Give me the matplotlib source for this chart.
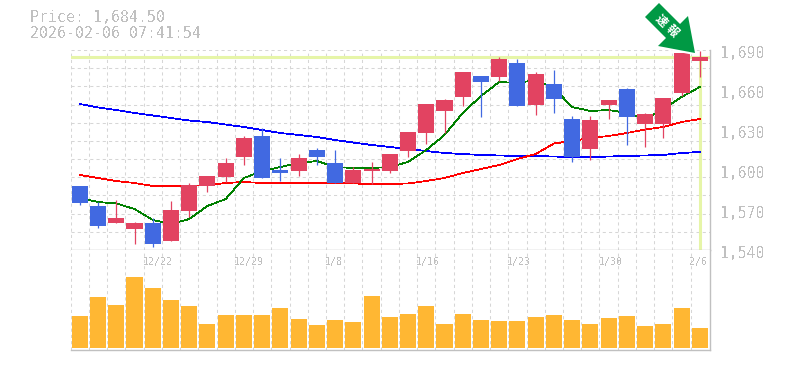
import matplotlib
matplotlib.use('Agg')
import matplotlib.pyplot as plt
import numpy as np
from matplotlib.patches import Polygon

# daily candles, prices in yen
opens = [1588, 1573, 1560.25, 1555.75, 1560.25, 1546.75, 1569.25, 1588, 1594.75, 1609.75,
         1625.5, 1600, 1599.25, 1615, 1605.25, 1590.25, 1599.25, 1599.25, 1614.25, 1627.75,
         1644.25, 1654.75, 1670.5, 1669.75, 1680.25, 1648.75, 1664.5, 1638.25, 1615.75, 1648.75,
         1660.75, 1634.5, 1634.5, 1657.75, 1681.75]
closes = [1575.5, 1558, 1564, 1560.25, 1544.5, 1570, 1588.75, 1595.5, 1605.25, 1624,
          1594, 1597.75, 1609, 1609.75, 1590.25, 1600, 1600.75, 1612, 1628.5, 1649.5,
          1652.5, 1673.5, 1666, 1683.25, 1648, 1672, 1653.25, 1609.75, 1637.5, 1652.5,
          1639.75, 1642, 1654, 1687.75, 1684.5]
highs = [1588, 1576, 1577.5, 1561, 1564, 1576.75, 1590.25, 1595.5, 1609, 1625.5,
         1631.5, 1609, 1612, 1616.5, 1615, 1602.25, 1606, 1612, 1628.5, 1649.5,
         1653.25, 1673.5, 1670.5, 1684.75, 1683.25, 1673.5, 1675, 1640.5, 1640.5, 1652.5,
         1661.5, 1642.75, 1654, 1687.75, 1689.25]
lows = [1574, 1556.75, 1560.25, 1544.5, 1542.25, 1546.75, 1564.75, 1583.5, 1591, 1603.75,
        1594, 1591.75, 1595.5, 1603.75, 1590.25, 1590.25, 1589.5, 1597.75, 1609.75, 1619.5,
        1627.75, 1648, 1639.75, 1666.75, 1648, 1641.25, 1642.75, 1606, 1607.5, 1638.25,
        1618.75, 1617.25, 1624, 1655.5, 1669.75]

# moving averages
ma_short = [1579, 1576, 1574.9, 1570.75, 1562.5, 1559.5, 1563.25, 1573, 1578.25, 1594,
            1599.25, 1602.25, 1605.25, 1606.75, 1602.25, 1601.5, 1601.5, 1602.25, 1606, 1615,
            1626.25, 1642.75, 1655.5, 1666, 1665.25, 1667.5, 1661.5, 1647.25, 1644.25, 1645,
            1642.75, 1638.25, 1645.75, 1654.75, 1662.25]
ma_mid = [1596.25, 1594, 1591.75, 1590.25, 1588, 1588, 1588, 1588.75, 1590.25, 1591,
          1590.25, 1590.25, 1590.25, 1590.25, 1590.25, 1589.9, 1589.5, 1589.5, 1589.9, 1591.75,
          1594, 1597.75, 1600.75, 1603.75, 1608.25, 1612, 1619.9, 1621.75, 1624, 1625.5,
          1627.75, 1630.4, 1632.25, 1636, 1638.25]
ma_long = [1649.5, 1646.9, 1645, 1642.75, 1640.9, 1639, 1637.1, 1636, 1634.1, 1632.25,
           1630, 1627.75, 1626.25, 1624.75, 1622.5, 1620.6, 1618.75, 1617.25, 1615.75, 1614.25,
           1612.75, 1612, 1611.25, 1610.9, 1610.5, 1610.5, 1610.1, 1609.75, 1609.75, 1610.1,
           1610.5, 1610.9, 1611.25, 1612.75, 1613.5]

volume = [32, 51, 43, 71, 60, 48, 42, 24, 33, 33, 33, 40, 29, 23, 28, 26, 52, 31,
          34, 42, 24, 34, 28, 27, 27, 31, 33, 28, 24, 30, 32, 22, 24, 40, 20]

date_idx = [4, 9, 14, 19, 24, 29, 34]
date_labels = ['12/22', '12/29', '1/8', '1/16', '1/23', '1/30', '2/6']
price_ticks = [1690, 1660, 1630, 1600, 1570, 1540]
price_now = 1684.5
header = ['Price: 1,684.50', '2026-02-06 07:41:54']
badge = ['速', '報']

W, H = 785, 370
L, R = 70.7, 710
RED = '#e24361'
BLUE = '#4169e1'
GRAY = '#c0c0c0'
GRID = '#d6d6d6'
LIME = '#e6f5a8'
MONO = 'DejaVu Sans Mono'

plt.rcParams['text.antialiased'] = False

fig = plt.figure(figsize=(W / 100, H / 100), dpi=100)


def px_axes(x0, x1, top, bottom):
    return fig.add_axes([x0 / W, 1 - bottom / H, (x1 - x0) / W, (bottom - top) / H])


ax = px_axes(L, R, 50, 250)
ax2 = px_axes(L, R, 250, 350)

xlim = (-0.5, 34.56)
n = len(opens)
xs = np.arange(n)

for a in (ax, ax2):
    a.set_xlim(*xlim)
    a.set_xticks(xs - 0.5)
    a.set_xticklabels([])
    a.tick_params(length=0)
    a.grid(axis='x', color=GRID, lw=0.75, ls=(0, (3, 3)))
    a.set_axisbelow(True)
    for s in a.spines.values():
        s.set_visible(False)
    for side in ('right', 'bottom'):
        a.spines[side].set_visible(True)
        a.spines[side].set_color(GRAY)
        a.spines[side].set_linewidth(1.0)

# price panel
ax.set_ylim(1540, 1690)
ax.set_yticks(np.linspace(1540, 1690, 12))
ax.set_yticklabels([])
ax.grid(axis='y', color=GRID, lw=0.75, ls=(0, (3, 3)))

ax.axhline(price_now, color=LIME, lw=2.2, zorder=1)
ax.plot([n - 1, n - 1], [1540, price_now], color=LIME, lw=2.2, zorder=1)

ax.plot(xs, ma_long, color='#0000ff', lw=0.55, zorder=2, antialiased=False)
ax.plot(xs, ma_mid, color='#ff0000', lw=0.55, zorder=2, antialiased=False)
ax.plot(xs, ma_short, color='#008000', lw=0.55, zorder=2, antialiased=False)

for i in range(n):
    c = RED if closes[i] >= opens[i] else BLUE
    ax.vlines(i, lows[i], highs[i], color=c, lw=0.9, zorder=3)
    ax.bar(i, abs(closes[i] - opens[i]), bottom=min(opens[i], closes[i]), width=0.88, color=c, zorder=4)

for v in price_ticks:
    ax.annotate(f'{v:,}', xy=(1, v), xycoords=('axes fraction', 'data'), xytext=(10, -4),
                textcoords='offset pixels', family=MONO, fontsize=10.6, color=GRAY, va='center', ha='left',
                annotation_clip=False)

# volume panel
ax2.bar(xs, volume, width=0.88, color='#ffb733', zorder=3)
ax2.set_ylim(-2, 98)
ax2.set_yticks([])
for i, lab in zip(date_idx, date_labels):
    ax2.text(i - 0.56, 0.88, lab, transform=ax2.get_xaxis_transform(), family=MONO, fontsize=7.1,
             color=GRAY, va='center', ha='left')

# header
fig.text(30 / W, 1 - 18 / H, header[0], family=MONO, fontsize=10.7, color=GRAY, va='center', ha='left')
fig.text(30 / W, 1 - 33 / H, header[1], family=MONO, fontsize=10.7, color=GRAY, va='center', ha='left')

# arrow badge
arrow_px = [(659, 3), (680, 24), (688, 16), (695, 53), (658, 46), (666, 38), (645, 17)]
arrow_xy = [(x / W, 1 - y / H) for x, y in arrow_px]
fig.add_artist(Polygon(arrow_xy, closed=True, transform=fig.transFigure, facecolor='white',
                       edgecolor='white', lw=3.0, zorder=10))
fig.add_artist(Polygon(arrow_xy, closed=True, transform=fig.transFigure, facecolor='#009944',
                       edgecolor='none', zorder=11))
for ch, (cx, cy) in zip(badge, [(661.5, 20.5), (672.5, 31)]):
    fig.text(cx / W, 1 - cy / H, ch, family=['Noto Sans CJK JP', 'DejaVu Sans'], fontsize=8.5, weight='bold',
             color='white', rotation=-45, rotation_mode='anchor', ha='center', va='center', zorder=12,
             antialiased=True)

fig.savefig('out.png', dpi=100)
